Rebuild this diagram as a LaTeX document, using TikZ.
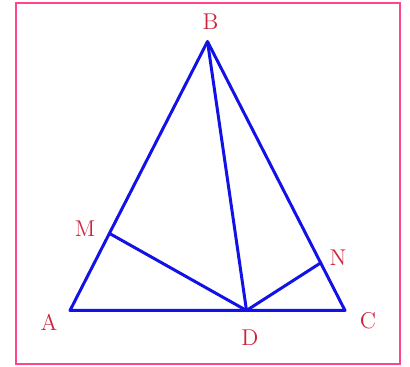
\documentclass[tikz,border=0pt]{standalone}
\usetikzlibrary{positioning}
\definecolor{edgeblue}{RGB}{18,18,230}
\definecolor{labelred}{RGB}{205,35,60}
\definecolor{framepink}{RGB}{255,70,140}
\begin{document}
\begin{tikzpicture}[
  x=0.02cm, y=-0.02cm,
  side/.style={
    draw=edgeblue, line width=1.7pt, line join=round
  },
  vlabel/.style={
    text=labelred, font=\fontsize{13}{15}\selectfont, inner sep=0pt
  },
]
\useasboundingbox (0,0) rectangle (410,367);

% Frame
\draw[framepink, line width=1.1pt] (16,3) rectangle (400,364);

% Vertices
\coordinate (A) at (70,310.5);
\coordinate (B) at (207.5,41.5);
\coordinate (C) at (345,310.5);
\coordinate (D) at (246.5,310.5);
\coordinate (M) at (110.5,234);
\coordinate (N) at (320.5,263);

% Triangle and segments from D
\draw[side] (A) -- (B) -- (C) -- cycle;
\draw[side] (B) -- (D);
\draw[side] (M) -- (D) -- (N);

% Labels
\node[vlabel] (labB) at (210.5,21.5) {B};
\node[vlabel] (labA) at (49,322) {A};
\node[vlabel] (labC) at (368,321) {C};
\node[vlabel] (labD) at (250,338) {D};
\node[vlabel] (labM) at (85,229) {M};
\node[vlabel] (labN) at (338,258) {N};

\end{tikzpicture}
\end{document}
